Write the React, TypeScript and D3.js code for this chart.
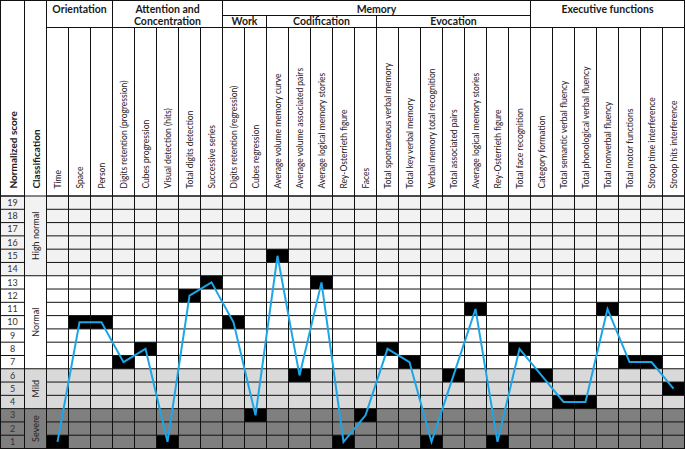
import * as d3 from 'd3';

const categories = [
  'Time', 'Space', 'Person',
  'Digits retention (progression)', 'Cubes progression', 'Visual detection (hits)', 'Total digits detection', 'Successive series',
  'Digits retention (regression)', 'Cubes regression',
  'Average volume memory curve', 'Average volume associated pairs', 'Average logical memory stories', 'Rey-Osterrieth figure', 'Faces',
  'Total spontaneous verbal memory', 'Total key verbal memory', 'Verbal memory total recognition', 'Total associated pairs',
  'Average logical memory stories', 'Rey-Osterrieth figure', 'Total face recognition',
  'Category formation', 'Total semantic verbal fluency', 'Total phonological verbal fluency', 'Total nonverbal fluency',
  'Total motor functions', 'Stroop time interference', 'Stroop hits interference'
];
const scores = [1, 10, 10, 7, 8, 1, 12, 13, 10, 3, 15, 6, 13, 1, 3, 8, 7, 1, 6, 11, 1, 8, 6, 4, 4, 11, 7, 7, 5];

const domains = [['Orientation'], ['Attention and', 'Concentration'], ['Memory'], ['Executive functions']];
const domainSpans = [3, 5, 14, 7];
const memoryParts = ['Work', 'Codification', 'Evocation'];
const memorySpans = [2, 5, 7];

const scoreTicks = d3.range(1, 20);
const classNames = ['Severe', 'Mild', 'Normal', 'High normal'];
const classFrom = [1, 4, 7, 14];
const classTo = [3, 6, 13, 19];

const classFill = ['#7f7f7f', '#d9d9d9', '#ffffff', '#f2f2f2'];
const font = "Lato, 'Open Sans', sans-serif";
const lineColor = '#1ca6e8';

export default function App() {
  const width = 685;
  const height = 449;
  const colScore = 0.5;
  const colClass = 24.5;
  const dataLeft = 46.5;
  const right = 684.5;
  const top = 0.5;
  const bodyTop = 196;
  const bottom = 448.5;
  const headRow = 27.5;
  const memRow = 15.5;
  const labelBase = 188.5;

  const idx = d3.range(categories.length);
  const x = d3.scaleBand<number>().domain(idx).range([dataLeft, right]);
  const y = d3.scaleLinear().domain([0.5, 19.5]).range([bottom, bodyTop]);

  const line = d3.line<number>()
    .x((d, i) => (x(i) as number) + x.bandwidth() / 2)
    .y(d => y(d));

  const domainStarts = d3.cumsum([0, ...domainSpans]);
  const memStart = domainStarts[2];
  const memStarts = d3.cumsum([0, ...memorySpans]).map(v => v + memStart);
  const colX = (i: number) => (i >= categories.length ? right : (x(i) as number));

  const domainBoundaries = new Set(domainStarts);
  const memBoundaries = new Set(memStarts.slice(1, -1));

  return (
    <svg width={width} height={height} style={{ position: 'absolute', left: 0, top: 0, background: '#fff' }}
      fontFamily={font}>
      {/* row backgrounds */}
      {classNames.map((c, k) => (
        <rect key={c} x={colScore} width={right - colScore}
          y={y(classTo[k] + 0.5)} height={y(classFrom[k] - 0.5) - y(classTo[k] + 0.5)}
          fill={classFill[k]} />
      ))}

      {/* black cells */}
      {scores.map((s, i) => (
        <rect key={i} x={x(i)} width={x.bandwidth()} y={y(s + 0.5)} height={y(s - 0.5) - y(s + 0.5)} fill="#000" />
      ))}

      {/* horizontal row lines */}
      {d3.range(0.5, 20).map(v => (
        <g key={v} stroke="#111" strokeWidth={1}>
          <line x1={colScore} x2={colClass} y1={y(v)} y2={y(v)} />
          <line x1={dataLeft} x2={right} y1={y(v)} y2={y(v)} />
        </g>
      ))}
      {classFrom.slice(1).map(f => (
        <line key={f} x1={colClass} x2={dataLeft} y1={y(f - 0.5)} y2={y(f - 0.5)} stroke="#111" />
      ))}

      {/* vertical column lines */}
      {idx.concat([categories.length]).map(i => {
        const y1 = domainBoundaries.has(i) ? top : memBoundaries.has(i) ? memRow : headRow;
        return <line key={i} x1={colX(i)} x2={colX(i)} y1={y1} y2={bottom} stroke="#111" />;
      })}
      <line x1={colClass} x2={colClass} y1={top} y2={bottom} stroke="#111" />

      {/* header lines */}
      <line x1={dataLeft} x2={right} y1={headRow} y2={headRow} stroke="#111" />
      <line x1={colX(memStart)} x2={colX(domainStarts[3])} y1={memRow} y2={memRow} stroke="#111" />
      <line x1={colScore} x2={right} y1={bodyTop} y2={bodyTop} stroke="#111" />
      <rect x={colScore} y={top} width={right - colScore} height={bottom - top} fill="none" stroke="#111" />

      {/* score line */}
      <path d={line(scores) || ''} fill="none" stroke={lineColor} strokeWidth={2} strokeLinejoin="miter" />

      {/* domain headers */}
      {domains.map((lines, k) => {
        const cx = (colX(domainStarts[k]) + colX(domainStarts[k + 1])) / 2;
        return (
          <text key={k} x={cx} y={12.5} textAnchor="middle" fontSize={10.5} fontWeight={700} fill="#1a1a1a">
            {lines.map((l, j) => <tspan key={j} x={cx} dy={j === 0 ? 0 : 12.5}>{l}</tspan>)}
          </text>
        );
      })}
      {memoryParts.map((p, k) => (
        <text key={p} x={(colX(memStarts[k]) + colX(memStarts[k + 1])) / 2} y={25}
          textAnchor="middle" fontSize={10.5} fontWeight={700} fill="#1a1a1a">{p}</text>
      ))}

      {/* category labels */}
      {categories.map((c, i) => {
        const cx = (x(i) as number) + x.bandwidth() / 2 + 3;
        return (
          <text key={i} transform={`translate(${cx},${labelBase}) rotate(-90)`} fontSize={8.5} fill="#222">{c}</text>
        );
      })}
      <text transform={`translate(${(colScore + colClass) / 2 + 4},${labelBase}) rotate(-90)`} fontSize={10} fontWeight={700} fill="#1a1a1a">Normalized score</text>
      <text transform={`translate(${(colClass + dataLeft) / 2 + 4},${labelBase}) rotate(-90)`} fontSize={10} fontWeight={700} fill="#1a1a1a">Classification</text>

      {/* score ticks */}
      {scoreTicks.map(t => (
        <text key={t} x={(colScore + colClass) / 2} y={y(t) + 3.2} textAnchor="middle" fontSize={9} fill="#333">{t}</text>
      ))}
      {classNames.map((c, k) => {
        const cy = (y(classFrom[k] - 0.5) + y(classTo[k] + 0.5)) / 2;
        return (
          <text key={c} transform={`translate(${(colClass + dataLeft) / 2 + 3},${cy}) rotate(-90)`}
            textAnchor="middle" fontSize={9} fill="#222">{c}</text>
        );
      })}
    </svg>
  );
}
